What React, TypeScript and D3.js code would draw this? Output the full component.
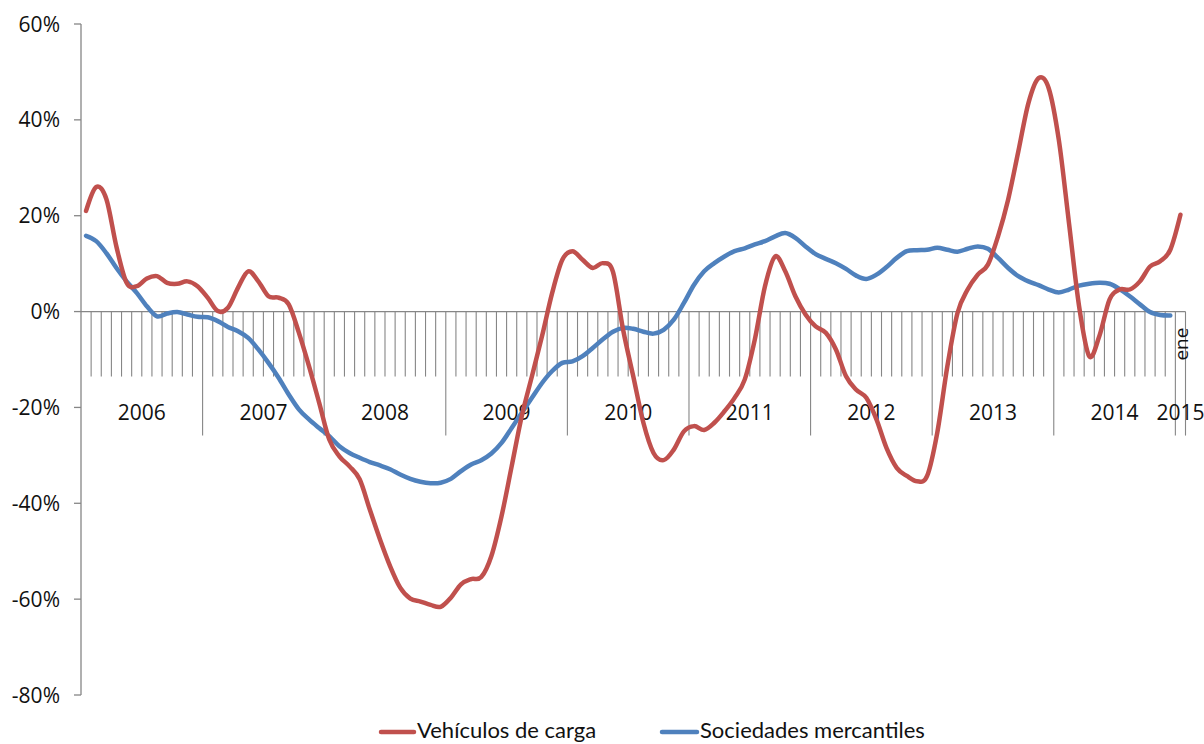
import React from "react";
import * as d3 from "d3";

const years = ["2006", "2007", "2008", "2009", "2010", "2011", "2012", "2013", "2014", "2015"];
const yTicks = [-80, -60, -40, -20, 0, 20, 40, 60];

// Vehículos de carga (monthly, Jan 2006 - Jan 2015)
const vehiculos = [
  21, 26, 23.5, 13.5, 6, 5.3, 6.9, 7.4, 6, 5.8, 6.3, 5.3,
  2.9, 0.1, 0.8, 5, 8.4, 6.3, 3.2, 2.9, 1.5, -4.4, -11.4, -19,
  -26.7, -30.2, -32.3, -35, -41.3, -47.5, -53.1, -57.6, -59.9, -60.5, -61.2, -61.6,
  -59.7, -56.9, -55.8, -55.4, -51, -42.7, -32.3, -21.8, -13.5, -5.1, 3.9, 10.8,
  12.6, 10.8, 9.1, 10.1, 8.3, -3.8, -13.5, -23.2, -29.5, -31, -28.8, -25,
  -23.9, -24.7, -23.2, -20.8, -18, -14.2, -5.8, 5.3, 11.5, 8.4, 3.2, -0.6,
  -3.1, -4.4, -7.9, -13.5, -16.3, -18, -22.5, -28.5, -32.6, -34.3, -35.4, -34.3,
  -25.3, -11.4, -0.3, 4.6, 7.7, 9.8, 15.7, 23.4, 33.4, 43.5, 48.7, 46.6,
  35.8, 18.5, 1.1, -9.3, -5.1, 2.5, 4.6, 4.6, 6.3, 9.4, 10.5, 12.9,
  20.2,
];

// Sociedades mercantiles (monthly, Jan 2006 - Dec 2014)
const sociedades = [
  15.8, 14.7, 12.2, 9.1, 6.3, 3.9, 1.1, -1, -0.4, -0.1, -0.6, -1.1,
  -1.2, -2, -3.2, -4.1, -5.5, -7.9, -10.7, -13.8, -17.3, -20.4, -22.5, -24.3,
  -26, -28.1, -29.5, -30.5, -31.4, -32.1, -32.9, -34, -34.9, -35.5, -35.8, -35.7,
  -34.9, -33.3, -31.9, -31, -29.6, -27.4, -24.3, -21.1, -18, -14.9, -12.4, -10.7,
  -10.4, -9.3, -7.6, -5.8, -4.2, -3.4, -3.6, -4.2, -4.6, -3.8, -1.7, 1.8,
  5.6, 8.4, 10.1, 11.5, 12.6, 13.2, 14, 14.7, 15.7, 16.4, 15.4, 13.6,
  12, 11, 10.1, 8.9, 7.5, 6.8, 7.7, 9.3, 11.2, 12.6, 12.8, 12.9,
  13.3, 12.9, 12.5, 13.1, 13.6, 13.1, 11.2, 9.1, 7.4, 6.3, 5.5, 4.6,
  4, 4.6, 5.4, 5.8, 6, 5.8, 4.7, 3.2, 1.5, -0.1, -0.7, -0.8,
];

const monthLabels = vehiculos.map((_, i) => (i === 108 ? "ene" : ""));

const RED = "#C0504D";
const BLUE = "#4F81BD";
const AXIS = "#868686";
const FONT = "'Open Sans', 'DejaVu Sans', sans-serif";

export default function App() {
  const W = 1204;
  const H = 744;
  const left = 81;
  const right = 1185.5;
  const top = 24;
  const bottom = 695;

  const n = vehiculos.length;
  const x = d3
    .scaleBand<number>()
    .domain(d3.range(n))
    .range([left, right])
    .padding(0);
  const bw = x.bandwidth();
  const cx = (i: number) => (x(i) as number) + bw / 2;
  const y = d3.scaleLinear().domain([-80, 60]).range([bottom, top]);
  const y0 = y(0);

  const line = d3
    .line<number>()
    .x((_, i) => cx(i))
    .y((d) => y(d))
    .curve(d3.curveCardinal.tension(0));

  const monthTickBottom = y0 + 65;
  const yearTickBottom = y0 + 124;

  const boundaries = d3.range(1, n + 1);

  return (
    <div style={{ position: "absolute", left: 0, top: 0 }}>
      <svg width={W} height={H} style={{ display: "block", background: "#fff" }}>
        {/* y axis */}
        <line x1={left} x2={left} y1={top} y2={bottom} stroke={AXIS} strokeWidth={1.3} />
        {yTicks.map((t) => (
          <g key={t}>
            <line x1={left - 7} x2={left} y1={y(t)} y2={y(t)} stroke={AXIS} strokeWidth={1.3} />
            <text
              x={60}
              y={y(t)}
              dy="0.36em"
              textAnchor="end"
              fontFamily={FONT}
              fontSize={21}
              fill="#111"
            >
              {t}%
            </text>
          </g>
        ))}

        {/* category axis at 0 */}
        <line x1={left} x2={right} y1={y0} y2={y0} stroke={AXIS} strokeWidth={1.3} />
        {boundaries.map((b) => {
          const bx = b < n ? (x(b) as number) : right;
          const isYear = b % 12 === 0 || b === n;
          return (
            <line
              key={b}
              x1={bx}
              x2={bx}
              y1={y0}
              y2={isYear ? yearTickBottom : monthTickBottom}
              stroke={AXIS}
              strokeWidth={1.1}
            />
          );
        })}
        {monthLabels.map((m, i) =>
          m ? (
            <text
              key={"m" + i}
              transform={`translate(${cx(i) + 7.5},${(y0 + monthTickBottom) / 2}) rotate(-90)`}
              textAnchor="middle"
              fontFamily={FONT}
              fontSize={19}
              fill="#111"
            >
              {m}
            </text>
          ) : null
        )}
        {years.map((yr, k) => {
          const start = k * 12;
          const end = Math.min(start + 11, n - 1);
          const mid = (cx(start) + cx(end)) / 2;
          return (
            <text
              key={yr}
              x={mid}
              y={420}
              textAnchor="middle"
              fontFamily={FONT}
              fontSize={21}
              fill="#111"
            >
              {yr}
            </text>
          );
        })}

        {/* series */}
        <path d={line(sociedades) || ""} fill="none" stroke={BLUE} strokeWidth={4.5} strokeLinejoin="round" strokeLinecap="round" />
        <path d={line(vehiculos) || ""} fill="none" stroke={RED} strokeWidth={4.5} strokeLinejoin="round" strokeLinecap="round" />

        {/* legend */}
        <g fontFamily="Lato, 'Open Sans', sans-serif" fontSize={22} fill="#111">
          <line x1={381} x2={414} y1={732} y2={732} stroke={RED} strokeWidth={4.5} strokeLinecap="round" />
          <text x={417} y={738}>Vehículos de carga</text>
          <line x1={662} x2={697} y1={732} y2={732} stroke={BLUE} strokeWidth={4.5} strokeLinecap="round" />
          <text x={700} y={738}>Sociedades mercantiles</text>
        </g>
      </svg>
    </div>
  );
}
